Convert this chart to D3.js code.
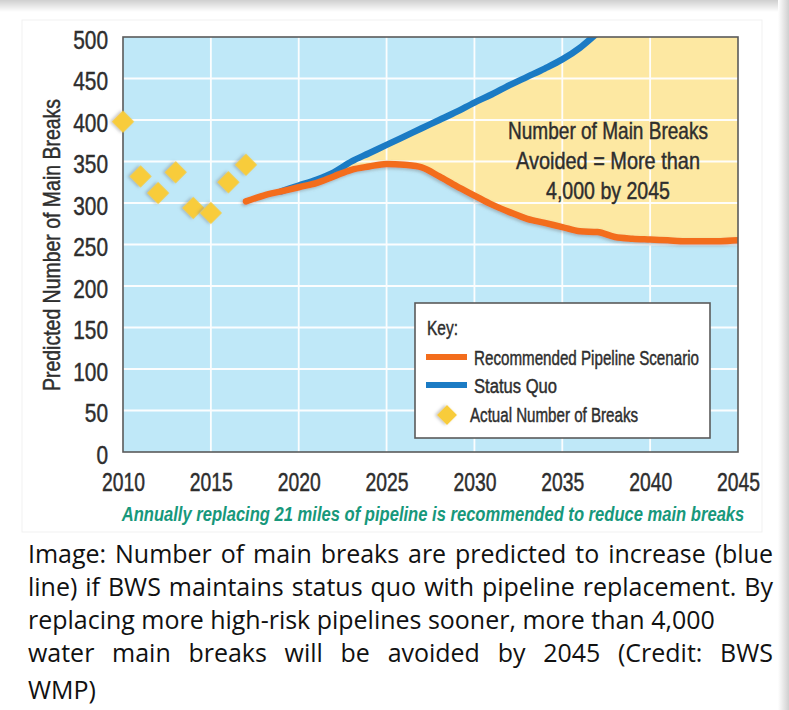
<!DOCTYPE html>
<html>
<head>
<meta charset="utf-8">
<script src="https://cdn.jsdelivr.net/npm/d3@7"></script>
<style>
  body { margin: 0; background: #fff; }
  svg { display: block; }
</style>
</head>
<body>
<svg id="chart" width="789" height="710"></svg>
<script>
// ---------------- DATA ----------------
const actualYears  = [2010, 2011, 2012, 2013, 2014, 2015, 2016, 2017];
const actualBreaks = [398, 332, 312, 337, 294, 288, 325, 346];

const recYears = [2017, 2018, 2019, 2020, 2021, 2022, 2023, 2024, 2025, 2026, 2027, 2028, 2029, 2030, 2031,
                  2032, 2033, 2034, 2035, 2036, 2037, 2038, 2039, 2040, 2041, 2042, 2043, 2044, 2045];
const recValues = [302, 309, 314, 319, 324, 332, 340, 344, 347, 346, 343, 332, 320, 309, 298,
                   289, 281, 276, 271, 266, 265, 259, 257, 256, 255, 254, 254, 254, 255];

const sqYears  = [2019, 2020, 2021, 2022, 2023, 2024, 2025, 2026, 2027, 2028, 2029, 2030, 2031, 2032, 2033, 2034, 2035, 2036, 2037];
const sqValues = [314, 321, 328, 337, 350, 360, 370, 380, 390, 400, 410, 421, 431, 442, 452, 462, 473, 487, 505];

const xTicks = [2010, 2015, 2020, 2025, 2030, 2035, 2040, 2045];
const yTicks = [0, 50, 100, 150, 200, 250, 300, 350, 400, 450, 500];

const yTitle = "Predicted Number of Main Breaks";
const noteText = "Annually replacing 21 miles of pipeline is recommended to reduce main breaks";
const annotationLines = ["Number of Main Breaks", "Avoided = More than", "4,000 by 2045"];
const legendTitle = "Key:";
const legendItems = ["Recommended Pipeline Scenario", "Status Quo", "Actual Number of Breaks"];
const captionLines = [
  "Image: Number of main breaks are predicted to increase (blue",
  "line) if BWS maintains status quo with pipeline replacement. By",
  "replacing more high-risk pipelines sooner, more than 4,000",
  "water main breaks will be avoided by 2045 (Credit: BWS",
  "WMP)"
];

// ---------------- SETUP ----------------
const FONT = "'Liberation Sans', Arial, sans-serif";
const svg = d3.select("#chart");
const W = 789, H = 710;
const plot = {left: 123, right: 738, top: 37, bottom: 452};

const COL = {
  bg: "#bfe8f8", fill: "#fde8a2", orange: "#f36d1c", blue: "#1b7bc4",
  diamond: "#f8cc3a", text: "#2e2e2e", border: "#5a5a5a", teal: "#17987b"
};

// condensed look: squeeze text to a width
function fitTo(sel, width) {
  sel.attr("textLength", width).attr("lengthAdjust", "spacingAndGlyphs");
}
function heavy(sel, color) {
  sel.attr("fill", color).attr("stroke", color).attr("stroke-width", 0.45);
}

const defs = svg.append("defs");
const topGrad = defs.append("linearGradient").attr("id", "topShade").attr("x1", 0).attr("y1", 0).attr("x2", 0).attr("y2", 1);
topGrad.append("stop").attr("offset", "0%").attr("stop-color", "#cfcfcf");
topGrad.append("stop").attr("offset", "100%").attr("stop-color", "#ffffff");
const rightGrad = defs.append("linearGradient").attr("id", "rightShade").attr("x1", 0).attr("y1", 0).attr("x2", 1).attr("y2", 0);
rightGrad.append("stop").attr("offset", "0%").attr("stop-color", "#ffffff");
rightGrad.append("stop").attr("offset", "100%").attr("stop-color", "#cfcfcf");
const shadow = defs.append("filter").attr("id", "soft").attr("x", "-50%").attr("y", "-50%").attr("width", "200%").attr("height", "200%");
shadow.append("feDropShadow").attr("dx", -1.5).attr("dy", 1.5).attr("stdDeviation", 1.5).attr("flood-color", "#777").attr("flood-opacity", 0.45);
defs.append("clipPath").attr("id", "plotClip").append("rect")
  .attr("x", plot.left).attr("y", plot.top).attr("width", plot.right - plot.left).attr("height", plot.bottom - plot.top);

// page frame (card with shadow)
svg.append("rect").attr("x", 0).attr("y", 0).attr("width", W).attr("height", 12).attr("fill", "url(#topShade)");
svg.append("rect").attr("x", 778).attr("y", 0).attr("width", 11).attr("height", H).attr("fill", "url(#rightShade)");
svg.append("rect").attr("x", 22).attr("y", 20).attr("width", 740).attr("height", 512)
  .attr("fill", "none").attr("stroke", "#f1f1f1").attr("stroke-width", 1);

// ---------------- SCALES ----------------
const x = d3.scaleLinear().domain([2010, 2045]).range([plot.left, plot.right]);
const y = d3.scaleLinear().domain([0, 500]).range([plot.bottom, plot.top]);

// background
svg.append("rect").attr("x", plot.left).attr("y", plot.top)
  .attr("width", plot.right - plot.left).attr("height", plot.bottom - plot.top).attr("fill", COL.bg);

// avoided area (between status quo and recommended)
const sqMap = new Map(sqYears.map((yr, i) => [yr, sqValues[i]]));
const areaData = recYears.map((yr, i) => ({
  year: yr, low: recValues[i],
  high: sqMap.has(yr) ? Math.min(sqMap.get(yr), y.domain()[1]) : y.domain()[1]
})).filter(d => d.year >= sqYears[0]);

svg.append("path").datum(areaData)
  .attr("clip-path", "url(#plotClip)")
  .attr("fill", COL.fill)
  .attr("d", d3.area().x(d => x(d.year)).y0(d => y(d.low)).y1(d => y(d.high)).curve(d3.curveMonotoneX));

// grid lines
const grid = svg.append("g").attr("stroke", "#ffffff").attr("stroke-width", 1.8).attr("opacity", 0.95);
grid.selectAll(".hg").data(yTicks.filter(v => v > 0 && v < 500)).join("line")
  .attr("x1", plot.left).attr("x2", plot.right).attr("y1", d => y(d)).attr("y2", d => y(d));
grid.selectAll(".vg").data(xTicks.filter(v => v > 2010 && v < 2045)).join("line")
  .attr("y1", plot.top).attr("y2", plot.bottom).attr("x1", d => x(d)).attr("x2", d => x(d));

// lines
const lineGen = d3.line().x(d => x(d[0])).y(d => y(d[1])).curve(d3.curveMonotoneX);
const sqData = sqYears.map((yr, i) => [yr, sqValues[i]]);
const recData = recYears.map((yr, i) => [yr, recValues[i]]);

const lines = svg.append("g").attr("clip-path", "url(#plotClip)");
lines.append("path").datum(sqData).attr("d", lineGen)
  .attr("fill", "none").attr("stroke", COL.blue).attr("stroke-width", 6.5)
  .attr("stroke-linecap", "round").attr("stroke-linejoin", "round");
lines.append("path").datum(recData).attr("d", lineGen)
  .attr("fill", "none").attr("stroke", COL.orange).attr("stroke-width", 6.5)
  .attr("stroke-linecap", "round").attr("stroke-linejoin", "round").attr("filter", "url(#soft)");

// plot border
svg.append("rect").attr("x", plot.left).attr("y", plot.top)
  .attr("width", plot.right - plot.left).attr("height", plot.bottom - plot.top)
  .attr("fill", "none").attr("stroke", COL.border).attr("stroke-width", 1.6);

// diamonds (actual breaks)
const diamond = d3.symbol().type(d3.symbolSquare).size(245);
svg.append("g").selectAll("path").data(actualYears.map((yr, i) => [yr, actualBreaks[i]])).join("path")
  .attr("d", diamond)
  .attr("transform", d => `translate(${x(d[0])},${y(d[1])}) rotate(45)`)
  .attr("fill", COL.diamond).attr("filter", "url(#soft)");

// ---------------- AXES ----------------
const yAxis = svg.append("g").attr("transform", `translate(${plot.left},0)`)
  .call(d3.axisLeft(y).tickValues(yTicks).tickSize(0).tickPadding(15));
yAxis.select(".domain").remove();
yAxis.selectAll("text").attr("font-family", FONT).attr("font-size", 26).attr("dy", "0.44em")
  .call(heavy, COL.text)
  .attr("textLength", d => String(d).length * 11.6).attr("lengthAdjust", "spacingAndGlyphs");

const xAxis = svg.append("g").attr("transform", `translate(0,${plot.bottom})`)
  .call(d3.axisBottom(x).tickValues(xTicks).tickFormat(d3.format("d")).tickSize(0));
xAxis.select(".domain").remove();
xAxis.selectAll("text").attr("font-family", FONT).attr("font-size", 25)
  .attr("y", 39).attr("dy", 0).call(heavy, COL.text).call(fitTo, 43);

svg.append("text").attr("transform", "translate(60,245) rotate(-90)")
  .attr("text-anchor", "middle").attr("font-family", FONT).attr("font-size", 24)
  .call(heavy, COL.text).text(yTitle).call(fitTo, 292);

// annotation
const annW = [200, 184, 124];
svg.append("g").selectAll("text").data(annotationLines).join("text")
  .attr("x", 608).attr("y", (d, i) => 139 + i * 30)
  .attr("text-anchor", "middle").attr("font-family", FONT).attr("font-size", 24)
  .call(heavy, COL.text).text(d => d)
  .attr("textLength", (d, i) => annW[i]).attr("lengthAdjust", "spacingAndGlyphs");

// ---------------- LEGEND ----------------
const lg = svg.append("g");
lg.append("rect").attr("x", 415).attr("y", 303).attr("width", 295).attr("height", 135)
  .attr("fill", "#ffffff").attr("stroke", COL.border).attr("stroke-width", 1.6);
lg.append("text").attr("x", 427).attr("y", 335).attr("font-family", FONT).attr("font-size", 20)
  .call(heavy, COL.text).text(legendTitle).call(fitTo, 31);
lg.append("rect").attr("x", 426).attr("y", 354).attr("width", 41).attr("height", 6).attr("fill", COL.orange);
lg.append("rect").attr("x", 426).attr("y", 382).attr("width", 41).attr("height", 6).attr("fill", COL.blue);
lg.append("path").attr("d", d3.symbol().type(d3.symbolSquare).size(200))
  .attr("transform", "translate(447,415) rotate(45)").attr("fill", COL.diamond).attr("filter", "url(#soft)");
const legendPos = [[474, 365], [474, 393], [470, 422]];
const legendW = [225, 83, 168];
lg.selectAll(".li").data(legendItems).join("text")
  .attr("x", (d, i) => legendPos[i][0]).attr("y", (d, i) => legendPos[i][1])
  .attr("font-family", FONT).attr("font-size", 20).call(heavy, COL.text).text(d => d)
  .attr("textLength", (d, i) => legendW[i]).attr("lengthAdjust", "spacingAndGlyphs");

// bottom note (condensed with a horizontal scale)
const note = svg.append("g").attr("transform", "translate(433,521)");
const noteText1 = note.append("text").attr("text-anchor", "middle")
  .attr("font-family", FONT).attr("font-size", 20).attr("font-weight", "bold").attr("font-style", "italic")
  .attr("fill", COL.teal).text(noteText);
const noteNat = noteText1.node().getComputedTextLength();
noteText1.attr("transform", `scale(${623 / noteNat},1)`);

// ---------------- CAPTION ----------------
const CAP_FONT = "'Open Sans', Lato, sans-serif";
const capBase = [563, 596, 629, 662, 699];
const capTargets = [745, 745, null, 745, null];
const capLeft = 28;
// font size so that the un-justified line 3 is as wide as in the picture (687px)
const probe = svg.append("text").attr("font-family", CAP_FONT).attr("font-size", 24).text(captionLines[2]);
const capSize = 24 * 687 / probe.node().getComputedTextLength();
probe.remove();
captionLines.forEach((line, li) => {
  const words = line.split(" ");
  const g = svg.append("g");
  const texts = words.map(w => g.append("text").attr("y", capBase[li]).attr("font-family", CAP_FONT)
    .attr("font-size", capSize).attr("fill", "#111").text(w));
  const widths = texts.map(t => t.node().getComputedTextLength());
  const total = d3.sum(widths);
  const target = capTargets[li];
  const space = (target && words.length > 1) ? (target - total) / (words.length - 1) : capSize * 0.26;
  let cx = capLeft;
  texts.forEach((t, i) => { t.attr("x", cx); cx += widths[i] + space; });
});
</script>
</body>
</html>
